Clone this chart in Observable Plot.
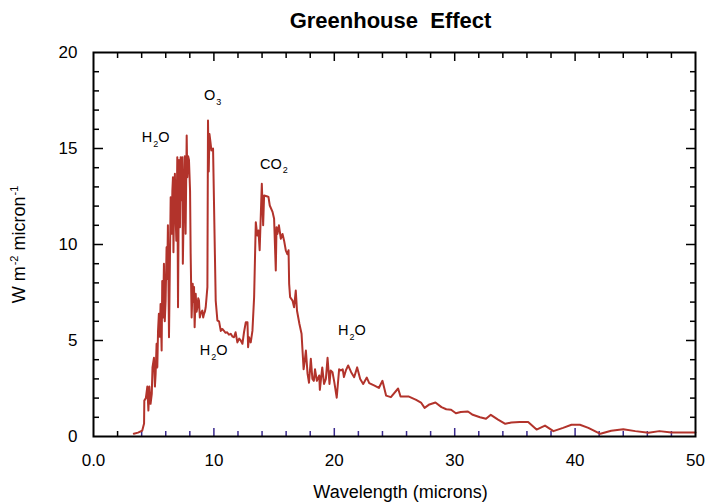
<!DOCTYPE html>
<html>
<head>
<meta charset="utf-8">
<script src="https://cdn.jsdelivr.net/npm/d3@7"></script>
<script src="https://cdn.jsdelivr.net/npm/@observablehq/plot@0.6"></script>
<style>
  html, body { margin: 0; padding: 0; background: #fff; }
  svg text { white-space: pre; }
</style>
</head>
<body>
<div id="chart"></div>
<script>
const wavelength = [3.35,3.7,4.05,4.2,4.22,4.35,4.47,4.56,4.64,4.74,4.84,4.9,5.02,5.1,5.16,5.24,5.3,5.36,5.43,5.5,5.57,5.66,5.71,5.78,5.85,5.92,5.99,6.07,6.12,6.18,6.22,6.27,6.35,6.41,6.49,6.55,6.6,6.64,6.68,6.76,6.82,6.88,6.96,7.02,7.1,7.14,7.18,7.24,7.29,7.33,7.38,7.42,7.46,7.52,7.58,7.65,7.74,7.79,7.86,7.93,8.02,8.07,8.15,8.24,8.3,8.35,8.4,8.49,8.56,8.63,8.7,8.76,8.83,8.9,9.04,9.11,9.18,9.25,9.32,9.46,9.51,9.57,9.63,9.72,9.79,9.93,10.0,10.15,10.29,10.43,10.57,10.7,10.84,10.97,11.1,11.25,11.4,11.55,11.67,11.8,11.95,12.1,12.23,12.37,12.5,12.65,12.79,12.84,12.92,13.06,13.2,13.34,13.48,13.6,13.7,13.8,13.98,14.09,14.17,14.45,14.53,14.64,14.87,15.0,15.14,15.2,15.28,15.4,15.56,15.7,15.83,15.97,16.1,16.2,16.25,16.33,16.53,16.66,16.8,16.9,17.1,17.28,17.45,17.55,17.64,17.78,17.9,18.05,18.18,18.3,18.4,18.55,18.75,18.8,19.0,19.15,19.3,19.44,19.6,19.7,19.85,20.0,20.2,20.4,20.55,20.7,20.8,20.96,21.15,21.4,21.65,21.9,22.15,22.4,22.7,22.9,23.3,23.7,24.0,24.3,24.7,25.3,25.5,26.2,26.8,27.2,27.5,27.9,28.4,28.9,29.3,29.7,30.1,30.5,31.1,31.5,32.1,32.6,33.0,33.6,34.2,34.7,35.4,36.1,36.8,37.5,38.2,39.0,39.7,40.4,41.1,42.1,43.0,44.0,45.0,46.1,47.0,48.0,50.0];
const flux = [0.14,0.2,0.31,0.68,1.87,2.0,2.6,1.35,2.6,1.7,2.22,3.6,4.1,2.6,3.26,4.83,3.6,5.5,6.39,5.2,6.9,4.48,8.1,6.2,9.0,6.0,7.08,9.86,8.2,11.0,8.5,5.17,9.34,12.46,10.56,12.8,13.5,9.6,11.4,13.68,11.5,10.2,14.55,6.73,14.4,12.0,10.9,14.55,12.3,14.0,14.55,9.0,10.56,13.16,14.6,10.56,15.68,13.5,14.6,14.4,12.8,9.5,6.2,7.95,7.0,7.78,5.69,7.43,6.5,6.73,7.2,7.08,6.2,6.39,6.56,6.2,6.39,6.5,6.73,7.78,16.46,13.8,15.76,15.3,14.9,15.0,12.46,7.08,6.04,6.0,5.5,5.6,5.5,5.4,5.43,5.3,5.35,5.2,5.17,5.43,4.9,5.1,5.0,4.83,5.43,5.95,5.95,4.65,5.17,4.9,5.5,7.26,11.16,10.47,10.73,9.7,13.16,11.0,12.55,12.5,12.48,12.03,11.7,11.34,8.65,10.9,10.55,11.0,10.3,10.55,10.2,9.7,9.5,9.7,7.95,7.26,7.08,6.73,7.6,6.56,5.87,5.35,3.5,3.96,4.48,3.26,2.8,4.05,3.0,2.9,3.5,2.9,3.18,2.43,3.6,2.74,3.0,4.1,2.74,3.44,3.35,2.83,2.02,3.5,3.44,3.5,3.1,3.44,3.7,3.35,3.09,3.6,3.0,2.74,3.07,2.78,2.66,2.53,2.9,2.13,2.05,2.5,2.08,2.08,1.91,1.77,1.49,1.67,1.77,1.53,1.42,1.39,1.21,1.28,1.3,1.13,1.0,0.92,1.13,0.88,0.66,0.73,0.75,0.75,0.36,0.57,0.28,0.45,0.61,0.61,0.45,0.14,0.3,0.38,0.28,0.19,0.28,0.21,0.21];

const labelText = ["H_2O", "O_3", "CO_2", "H_2O", "H_2O"];
const labelX = [5.16, 9.9, 14.98, 9.98, 21.46];
const labelY = [15.57, 17.76, 14.2, 4.48, 5.52];

const xMinorTicks = [2,4,6,8,12,14,16,18,22,24,26,28,32,34,36,38,42,44,46,48];
const xMajorTicks = [10,20,30,40];
const xTickValues = [0,10,20,30,40,50];
const xTickLabels = ["0.0","10","20","30","40","50"];
const yMinorTicks = [1,2,3,4,6,7,8,9,11,12,13,14,16,17,18,19];
const yMajorTicks = [5,10,15];
const yTickValues = [0,5,10,15,20];

const titleText = "Greenhouse  Effect";
const xLabelText = "Wavelength (microns)";
const yLabelText = "W m^{-2} micron^{-1}";

const lineColor = "#b2332b";
const tickBlue = "#3b2a8e";

const idx = d3.range(wavelength.length);

const chart = Plot.plot({
  width: 705,
  height: 502,
  marginTop: 52,
  marginRight: 10,
  marginBottom: 66,
  marginLeft: 93,
  style: {fontFamily: "'Liberation Sans', Arial, Helvetica, sans-serif", fontSize: "16px", color: "black", background: "white"},
  x: {domain: [0, 50]},
  y: {domain: [0, 20]},
  marks: [
    // bottom ticks (inward)
    Plot.axisX(xMinorTicks.filter(d => d === 2), {anchor: "bottom", tickSize: -5, fill: "none", label: null, stroke: "black", strokeWidth: 1.5}),
    Plot.axisX(xMinorTicks.filter(d => d !== 2), {anchor: "bottom", tickSize: -5, fill: "none", label: null, stroke: tickBlue, strokeWidth: 1.5}),
    Plot.axisX(xMajorTicks, {anchor: "bottom", tickSize: -8, fill: "none", label: null, stroke: tickBlue, strokeWidth: 1.5}),
    Plot.axisX(xTickValues, {anchor: "bottom", tickSize: 0, tickPadding: 17, fontSize: 17, label: null, tickFormat: (d) => xTickLabels[xTickValues.indexOf(d)]}),
    // top ticks
    Plot.axisX(xMinorTicks, {anchor: "top", tickSize: -5, fill: "none", label: null, strokeWidth: 1.5}),
    Plot.axisX(xMajorTicks, {anchor: "top", tickSize: -8, fill: "none", label: null, strokeWidth: 1.5}),
    // left ticks
    Plot.axisY(yMinorTicks, {anchor: "left", tickSize: -6, fill: "none", label: null, strokeWidth: 1.5}),
    Plot.axisY(yMajorTicks, {anchor: "left", tickSize: -10, fill: "none", label: null, strokeWidth: 1.5}),
    Plot.axisY(yTickValues, {anchor: "left", tickSize: 0, tickPadding: 16, fontSize: 17, label: null}),
    // right ticks
    Plot.axisY(yMinorTicks, {anchor: "right", tickSize: -6, fill: "none", label: null, strokeWidth: 1.5}),
    Plot.axisY(yMajorTicks, {anchor: "right", tickSize: -10, fill: "none", label: null, strokeWidth: 1.5}),
    Plot.line(idx, {x: i => wavelength[i], y: i => flux[i], stroke: lineColor, strokeWidth: 2, strokeLinejoin: "round"}),
    Plot.frame({stroke: "black", strokeWidth: 2}),
    Plot.text(labelText, {x: (d, i) => labelX[i], y: (d, i) => labelY[i], text: d => d, fontSize: 14.5, fill: "black"}),
    Plot.text([titleText], {frameAnchor: "top", dy: -32, dx: -4, fontSize: 22, fontWeight: "bold", fill: "black", textAnchor: "middle", lineAnchor: "middle"}),
    Plot.text([xLabelText], {frameAnchor: "bottom", dy: 56, dx: 6, fontSize: 18, fill: "black", textAnchor: "middle", lineAnchor: "middle"}),
    Plot.text([yLabelText], {frameAnchor: "left", dx: -74, rotate: -90, fontSize: 18, fill: "black", textAnchor: "middle", lineAnchor: "middle"})
  ]
});

// Convert _x and ^{...} markup into real sub/superscript tspans
function rich(el) {
  const s = el.textContent;
  if (!/[_^]/.test(s)) return;
  const parts = [];
  const re = /([_^])(\{[^}]*\}|.)/g;
  let last = 0, m;
  while ((m = re.exec(s))) {
    if (m.index > last) parts.push({t: s.slice(last, m.index), k: 0});
    let t = m[2];
    if (t[0] === "{") t = t.slice(1, -1);
    parts.push({t, k: m[1] === "_" ? 1 : -1});
    last = re.lastIndex;
  }
  if (last < s.length) parts.push({t: s.slice(last), k: 0});
  const big = parseFloat(el.closest("g").getAttribute("font-size")) || 14;
  const small = Math.round(big * 0.62);
  el.textContent = "";
  let cur = 0;
  for (const p of parts) {
    const ts = document.createElementNS("http://www.w3.org/2000/svg", "tspan");
    const target = p.k === 1 ? Math.round(big * 0.36) : p.k === -1 ? -Math.round(big * 0.4) : 0;
    if (target - cur !== 0) ts.setAttribute("dy", target - cur);
    cur = target;
    if (p.k) { ts.setAttribute("font-size", small); ts.setAttribute("dx", 1); }
    ts.textContent = p.t;
    el.appendChild(ts);
  }
}
chart.querySelectorAll("text").forEach(rich);

document.getElementById("chart").appendChild(chart);
</script>
</body>
</html>
